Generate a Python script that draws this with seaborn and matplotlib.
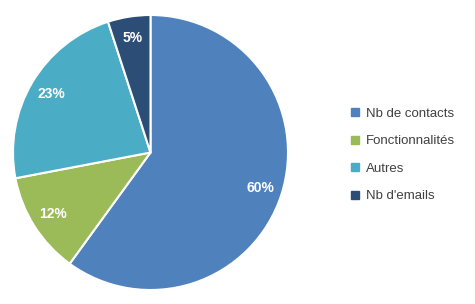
import matplotlib
matplotlib.use("Agg")
import matplotlib.pyplot as plt
import seaborn as sns
from matplotlib.lines import Line2D

sns.set_style("white")
plt.rcParams['font.family'] = ['Liberation Sans', 'DejaVu Sans']

categories = ["Nb de contacts", "Fonctionnalités", "Autres", "Nb d'emails"]
values = [60, 12, 23, 5]
colors = ["#4F81BD", "#9BBB59", "#4BACC6", "#2C4D75"]

fig = plt.figure(figsize=(4.75, 3.04), dpi=100)
ax = fig.add_axes([13/475, 14/304, 275/475, 275/304])
wedges, texts, autotexts = ax.pie(
    values, colors=colors, startangle=90, counterclock=False,
    autopct=lambda p: f"{p:.0f}%", pctdistance=0.84,
    wedgeprops=dict(edgecolor="white", linewidth=1.5),
    textprops=dict(color="white", fontsize=10, fontweight="bold"))
ax.set_xlim(-1, 1)
ax.set_ylim(-1, 1)
ax.set_aspect("equal")

handles = [Line2D([0], [0], marker="s", linestyle="", markersize=5.5,
                  markerfacecolor=c, markeredgecolor=c) for c in colors]
leg = fig.legend(handles, categories, loc="center left",
                 bbox_to_anchor=(338/475, 1 - 155/304), frameon=False,
                 fontsize=9.5, labelspacing=1.15, handlelength=0.8,
                 handletextpad=0.4, labelcolor="#404040")

fig.savefig("out.png", dpi=100)
